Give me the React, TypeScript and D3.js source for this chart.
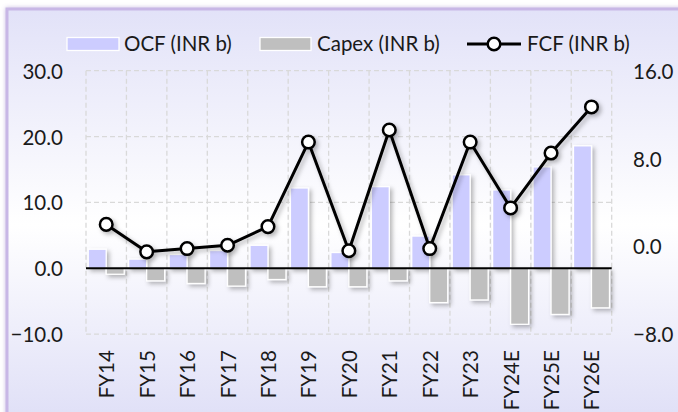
import React from "react";
import * as d3 from "d3";

const categories = ["FY14","FY15","FY16","FY17","FY18","FY19","FY20","FY21","FY22","FY23","FY24E","FY25E","FY26E"];
const ocf = [2.9, 1.4, 2.1, 2.7, 3.5, 12.2, 2.4, 12.4, 4.9, 14.2, 11.9, 15.4, 18.6];
const capex = [-0.9, -1.9, -2.3, -2.7, -1.7, -2.8, -2.8, -1.9, -5.2, -4.8, -8.5, -7.0, -6.0];
const fcf = [2.0, -0.5, -0.2, 0.1, 1.8, 9.5, -0.4, 10.6, -0.2, 9.5, 3.5, 8.5, 12.7];
const leftTicks = [-10, 0, 10, 20, 30];
const rightTicks = [-8, 0, 8, 16];
const seriesNames = ["OCF (INR b)", "Capex (INR b)", "FCF (INR b)"];

const W = 678, H = 412;
const L = 86, R = 611.7, T = 70.7, B = 334.2;
const FONT = "Lato, 'Open Sans', sans-serif";
const FS = 20.5;

export default function App() {
  const x = d3.scaleBand<string>().domain(categories).range([L, R]).paddingInner(0).paddingOuter(0);
  const yL = d3.scaleLinear().domain([-10, 30]).range([B, T]);
  const yR = d3.scaleLinear().domain([-8, 16]).range([B, T]);
  const bw = x.bandwidth();
  const barW = 18;
  const cx = (c: string) => (x(c) as number) + bw / 2;
  const line = d3.line<number>().x((_, i) => cx(categories[i])).y((d) => yR(d));

  return (
    <div style={{ position: "fixed", left: 0, top: 0 }}>
      <svg width={W} height={H} style={{ display: "block" }}>
        <defs>
          <linearGradient id="bg" x1="0" y1="0" x2="0" y2="1">
            <stop offset="0" stopColor="#e2e2f8" />
            <stop offset="0.5" stopColor="#ffffff" />
            <stop offset="1" stopColor="#dcdcf6" />
          </linearGradient>
          <filter id="sh" x="-30%" y="-30%" width="160%" height="160%">
            <feDropShadow dx="2.5" dy="2.5" stdDeviation="2" floodColor="#000" floodOpacity="0.28" />
          </filter>
          <filter id="psh" x="-5%" y="-5%" width="110%" height="110%">
            <feDropShadow dx="0" dy="0" stdDeviation="2" floodColor="#8a6fc0" floodOpacity="0.45" />
          </filter>
        </defs>
        <rect x={0} y={0} width={W} height={H} fill="#ffffff" />
        <rect x={7} y={9} width={W + 20} height={H + 20} fill="url(#bg)" stroke="#c8b7e6" strokeWidth={3} filter="url(#psh)" />

        {/* gridlines */}
        <g stroke="#d9d9d9" strokeWidth={1.3} strokeDasharray="5,3" fill="none">
          {leftTicks.filter((t) => t !== 0).map((t) => (
            <line key={"h" + t} x1={L} x2={R} y1={yL(t)} y2={yL(t)} />
          ))}
          {categories.map((c) => (
            <line key={"v" + c} x1={x(c)} x2={x(c)} y1={T} y2={B} />
          ))}
          <line x1={R} x2={R} y1={T} y2={B} />
        </g>

        {/* bars */}
        <g filter="url(#sh)">
          {categories.map((c, i) => (
            <rect key={"o" + c} x={cx(c) - barW} y={yL(Math.max(0, ocf[i]))} width={barW}
              height={Math.abs(yL(ocf[i]) - yL(0))} fill="#ccccff" stroke="#ffffff" strokeWidth={1.3} />
          ))}
          {categories.map((c, i) => (
            <rect key={"c" + c} x={cx(c)} y={yL(Math.max(0, capex[i]))} width={barW}
              height={Math.abs(yL(capex[i]) - yL(0))} fill="#bfbfbf" stroke="#ffffff" strokeWidth={1.3} />
          ))}
        </g>

        {/* zero line */}
        <line x1={L} x2={R} y1={yL(0)} y2={yL(0)} stroke="#000" strokeWidth={2} />

        {/* FCF line */}
        <g filter="url(#sh)">
          <path d={line(fcf) as string} fill="none" stroke="#000" strokeWidth={3} strokeLinejoin="round" />
          {categories.map((c, i) => (
            <circle key={"p" + c} cx={cx(c)} cy={yR(fcf[i])} r={6.3} fill="#fff" stroke="#000" strokeWidth={2.5} />
          ))}
        </g>

        {/* axes labels */}
        <g fontFamily={FONT} fontSize={FS} fill="#1a1a1a">
          {leftTicks.map((t) => (
            <text key={"l" + t} x={63} y={yL(t)} textAnchor="end" dominantBaseline="central">{d3.format(".1f")(t)}</text>
          ))}
          {rightTicks.map((t) => (
            <text key={"r" + t} x={633} y={yR(t)} textAnchor="start" dominantBaseline="central">{d3.format(".1f")(t)}</text>
          ))}
          {categories.map((c) => (
            <text key={"x" + c} transform={`translate(${cx(c)},${B + 16}) rotate(-90)`} textAnchor="end" dominantBaseline="central">{c}</text>
          ))}
        </g>

        {/* legend */}
        <g fontFamily={FONT} fontSize={FS} fill="#1a1a1a">
          <rect x={67} y={37.5} width={52} height={13} fill="#ccccff" stroke="#fff" strokeWidth={1.3} />
          <text x={124} y={51}>{seriesNames[0]}</text>
          <rect x={260} y={37.5} width={51} height={13} fill="#bfbfbf" stroke="#fff" strokeWidth={1.3} />
          <text x={317} y={51}>{seriesNames[1]}</text>
          <line x1={467} x2={521} y1={44} y2={44} stroke="#000" strokeWidth={3} />
          <circle cx={494} cy={44} r={6.3} fill="#fff" stroke="#000" strokeWidth={2.5} />
          <text x={527} y={51}>{seriesNames[2]}</text>
        </g>
      </svg>
    </div>
  );
}
